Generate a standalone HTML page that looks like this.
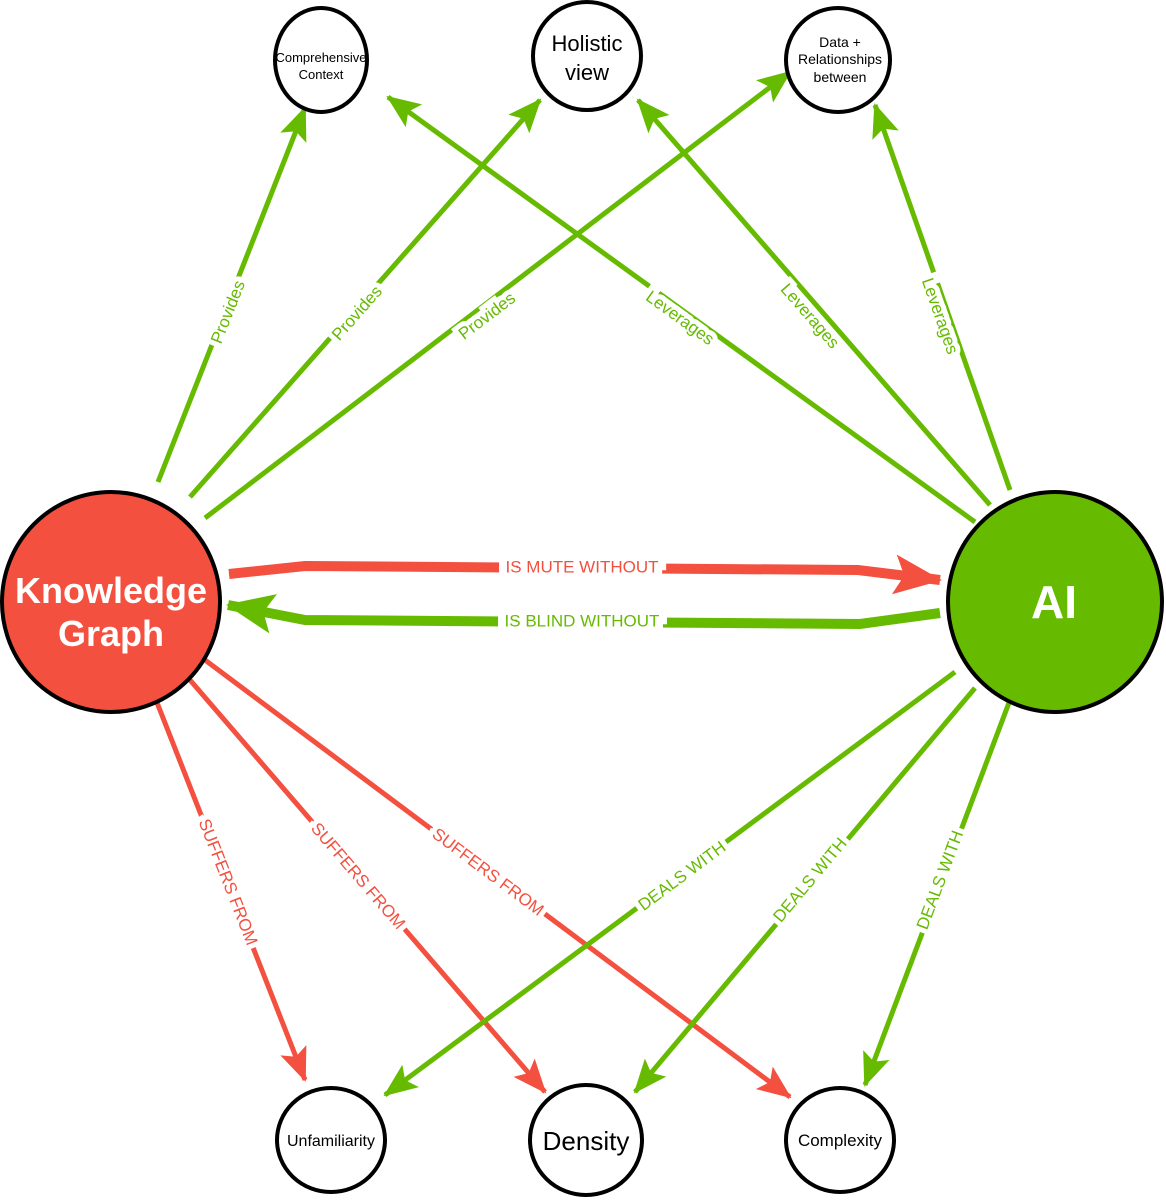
<!DOCTYPE html>
<html><head><meta charset="utf-8"><style>
html,body{margin:0;padding:0;background:#fff;}
svg{display:block;}
text{font-family:"Liberation Sans",Arial,sans-serif;}
.lbl{font-size:17px;paint-order:stroke;stroke:#fff;stroke-width:10px;stroke-linejoin:miter;}
</style></head><body>
<svg width="1166" height="1200" viewBox="0 0 1166 1200" xmlns="http://www.w3.org/2000/svg">
<defs>
<marker id="ag" markerUnits="userSpaceOnUse" markerWidth="36" markerHeight="28" refX="32" refY="14" orient="auto"><path d="M0,0 L34,14 L0,28 L7,14 z" fill="#66bb00"/></marker>
<marker id="ar" markerUnits="userSpaceOnUse" markerWidth="36" markerHeight="28" refX="32" refY="14" orient="auto"><path d="M0,0 L34,14 L0,28 L7,14 z" fill="#f4503f"/></marker>
<marker id="ag2" markerUnits="userSpaceOnUse" markerWidth="50" markerHeight="40" refX="46" refY="20" orient="auto"><path d="M0,0 L48,20 L0,40 L10,20 z" fill="#66bb00"/></marker>
<marker id="ar2" markerUnits="userSpaceOnUse" markerWidth="50" markerHeight="40" refX="46" refY="20" orient="auto"><path d="M0,0 L48,20 L0,40 L10,20 z" fill="#f4503f"/></marker>
</defs>
<g fill="none" stroke-width="5">
<line x1="158" y1="482" x2="305" y2="108" stroke="#66bb00" marker-end="url(#ag)"/>
<line x1="190" y1="497" x2="540" y2="100" stroke="#66bb00" marker-end="url(#ag)"/>
<line x1="205" y1="518" x2="790" y2="72" stroke="#66bb00" marker-end="url(#ag)"/>
<line x1="975" y1="522" x2="388" y2="97" stroke="#66bb00" marker-end="url(#ag)"/>
<line x1="990" y1="505" x2="638" y2="100" stroke="#66bb00" marker-end="url(#ag)"/>
<line x1="1010" y1="490" x2="875" y2="105" stroke="#66bb00" marker-end="url(#ag)"/>
<line x1="156" y1="700" x2="305" y2="1080" stroke="#f4503f" marker-end="url(#ar)"/>
<line x1="190" y1="680" x2="545" y2="1092" stroke="#f4503f" marker-end="url(#ar)"/>
<line x1="205" y1="660" x2="790" y2="1097" stroke="#f4503f" marker-end="url(#ar)"/>
<line x1="955" y1="672" x2="385" y2="1095" stroke="#66bb00" marker-end="url(#ag)"/>
<line x1="975" y1="688" x2="635" y2="1092" stroke="#66bb00" marker-end="url(#ag)"/>
<line x1="1010" y1="700" x2="865" y2="1085" stroke="#66bb00" marker-end="url(#ag)"/>
<polyline points="229,574 305,566 858,570 940,580" stroke="#f4503f" stroke-width="10" marker-end="url(#ar2)"/>
<polyline points="940,613 860,624 305,620 228,605" stroke="#66bb00" stroke-width="10" marker-end="url(#ag2)"/>
</g>
<g class="lbl" text-anchor="middle" dominant-baseline="central">
<text x="228" y="312" fill="#66bb00" transform="rotate(-68.5 228 312)">Provides</text>
<text x="357" y="313" fill="#66bb00" transform="rotate(-48.6 357 313)">Provides</text>
<text x="487" y="316" fill="#66bb00" transform="rotate(-37.3 487 316)">Provides</text>
<text x="680" y="318" fill="#66bb00" transform="rotate(35.9 680 318)">Leverages</text>
<text x="810" y="316" fill="#66bb00" transform="rotate(49 810 316)">Leverages</text>
<text x="940" y="316" fill="#66bb00" transform="rotate(70.7 940 316)">Leverages</text>
<text x="228" y="882" fill="#f4503f" transform="rotate(68.6 228 882)">SUFFERS FROM</text>
<text x="358" y="876" fill="#f4503f" transform="rotate(49.3 358 876)">SUFFERS FROM</text>
<text x="488" y="872" fill="#f4503f" transform="rotate(36.8 488 872)">SUFFERS FROM</text>
<text x="682" y="876" fill="#66bb00" transform="rotate(-36.6 682 876)">DEALS WITH</text>
<text x="810" y="880" fill="#66bb00" transform="rotate(-50 810 880)">DEALS WITH</text>
<text x="940" y="880" fill="#66bb00" transform="rotate(-69.4 940 880)">DEALS WITH</text>
<text x="582" y="567" fill="#f4503f" style="stroke-width:16px">IS MUTE WITHOUT</text>
<text x="582" y="621" fill="#66bb00" style="stroke-width:16px">IS BLIND WITHOUT</text>
</g>
<g stroke="#000" stroke-width="4">
<ellipse cx="111" cy="602" rx="109" ry="110" fill="#f4503f"/>
<ellipse cx="1055" cy="602" rx="107" ry="110" fill="#66bb00"/>
<g fill="#fff">
<ellipse cx="321" cy="60" rx="46" ry="52"/>
<ellipse cx="587" cy="56" rx="54" ry="54"/>
<ellipse cx="838" cy="60" rx="52" ry="52"/>
<ellipse cx="331" cy="1140" rx="54" ry="52"/>
<ellipse cx="586" cy="1140" rx="56" ry="55"/>
<ellipse cx="840" cy="1140" rx="54" ry="52"/>
</g>
</g>
<g text-anchor="middle" fill="#000">
<text x="111" y="603" font-size="36" font-weight="bold" fill="#fff">Knowledge</text>
<text x="111" y="646" font-size="36" font-weight="bold" fill="#fff">Graph</text>
<text x="1054" y="618" font-size="46" font-weight="bold" fill="#fff">AI</text>
<text x="321" y="62" font-size="13">Comprehensive</text>
<text x="321" y="79" font-size="13">Context</text>
<text x="587" y="51" font-size="22">Holistic</text>
<text x="587" y="80" font-size="22">view</text>
<text x="840" y="47" font-size="14">Data +</text>
<text x="840" y="64" font-size="14">Relationships</text>
<text x="840" y="82" font-size="14">between</text>
<text x="331" y="1146" font-size="16">Unfamiliarity</text>
<text x="586" y="1150" font-size="26">Density</text>
<text x="840" y="1146" font-size="17">Complexity</text>
</g>
</svg>
</body></html>
